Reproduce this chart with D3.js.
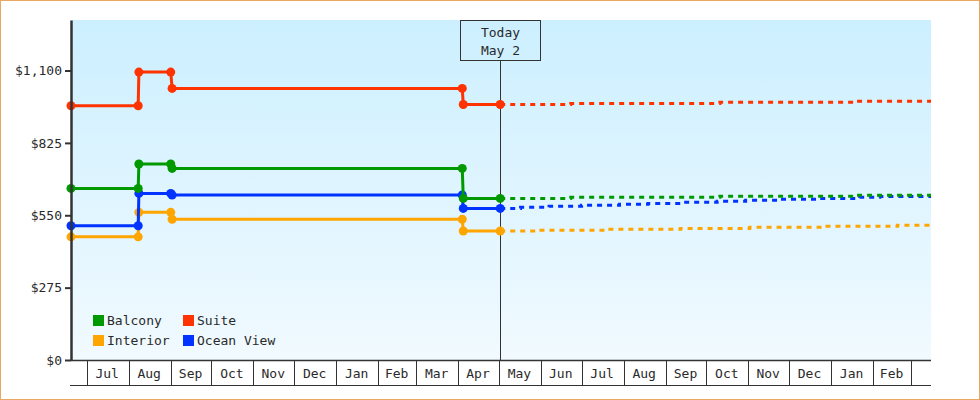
<!DOCTYPE html>
<html>
<head>
<meta charset="utf-8">
<script src="https://cdn.jsdelivr.net/npm/d3@7"></script>
<style>
  body { margin: 0; background: #fff; }
  svg { display: block; }
  text { font-family: "DejaVu Sans Mono", monospace; font-size: 13px; fill: #2a2a2a; }
</style>
</head>
<body>
<svg id="chart" width="980" height="400"></svg>
<script>
// price history, one value per date (pairs of dates give the small jump)
var historyDates = ["2021-06-19 10:30", "2021-08-08", "2021-08-08 12:00", "2021-09-01", "2021-09-02",
  "2022-04-04", "2022-04-04 18:00", "2022-05-02"];
var balcony = [652, 652, 745, 745, 728, 728, 614, 614];
var suite = [966, 966, 1094, 1094, 1032, 1032, 971, 971];
var interior = [468, 468, 561, 561, 535, 535, 490, 490];
var oceanView = [510, 510, 633, 633, 627, 627, 576, 576];

// forecast after today, value holds from its date to the next one
var suiteForecastDates = ["2022-05-02", "2022-06-23", "2022-10-11", "2023-01-20", "2023-03-15 17:00"];
var suiteForecast = [971, 975, 979, 983, 983];
var balconyForecastDates = ["2022-05-02", "2022-06-23", "2022-10-11", "2023-01-20", "2023-03-15 17:00"];
var balconyForecast = [614, 618, 622, 626, 626];
var oceanViewForecastDates = ["2022-05-02", "2022-05-17", "2022-06-07", "2022-07-01", "2022-07-29", "2022-08-19",
  "2022-09-12", "2022-10-09", "2022-10-30", "2022-11-25", "2022-12-24", "2023-01-22", "2023-02-06", "2023-03-15 17:00"];
var oceanViewForecast = [576, 580, 584, 588, 592, 595, 599, 603, 607, 611, 614, 618, 621, 621];
var interiorForecastDates = ["2022-05-02", "2022-05-30", "2022-07-20", "2022-09-12", "2022-11-02", "2022-12-26",
  "2023-02-19", "2023-03-15 17:00"];
var interiorForecast = [490, 493, 497, 500, 504, 508, 512, 512];

var todayDate = "2022-05-02";
var todayLabel = ["Today", "May 2"];

var yTicks = [0, 275, 550, 825, 1100];
var monthStarts = ["2021-07-01", "2021-08-01", "2021-09-01", "2021-10-01", "2021-11-01", "2021-12-01",
  "2022-01-01", "2022-02-01", "2022-03-01", "2022-04-01", "2022-05-01", "2022-06-01", "2022-07-01",
  "2022-08-01", "2022-09-01", "2022-10-01", "2022-11-01", "2022-12-01", "2023-01-01", "2023-02-01", "2023-03-01"];
var monthLabels = ["Jul", "Aug", "Sep", "Oct", "Nov", "Dec", "Jan", "Feb", "Mar", "Apr", "May", "Jun",
  "Jul", "Aug", "Sep", "Oct", "Nov", "Dec", "Jan", "Feb"];

var parseDay = d3.utcParse("%Y-%m-%d");
var parseTime = d3.utcParse("%Y-%m-%d %H:%M");
function parse(s) { return parseTime(s) || parseDay(s); }

var series = [
  {name: "Interior", color: "#ffa500", values: interior, fDates: interiorForecastDates, fValues: interiorForecast},
  {name: "Ocean View", color: "#0033ff", values: oceanView, fDates: oceanViewForecastDates, fValues: oceanViewForecast},
  {name: "Balcony", color: "#009900", values: balcony, fDates: balconyForecastDates, fValues: balconyForecast},
  {name: "Suite", color: "#ff3300", values: suite, fDates: suiteForecastDates, fValues: suiteForecast}
];

// plot box (window.top is taken, so no plain "top")
var plotLeft = 71, plotRight = 931, plotTop = 20, plotBottom = 360;

var svg = d3.select("#chart");

// orange frame round the whole picture
svg.append("rect")
  .attr("x", 0.5).attr("y", 0.5)
  .attr("width", 979).attr("height", 399)
  .attr("fill", "#fff")
  .attr("stroke", "#e9a862");

var x = d3.scaleUtc()
  .domain([parse("2021-06-19 10:30"), parse("2023-03-15 17:00")])
  .range([plotLeft, plotRight]);

var y = d3.scaleLinear()
  .domain([0, 1292])
  .range([plotBottom, plotTop]);

// plot background gradient
var grad = svg.append("defs").append("linearGradient")
  .attr("id", "bg")
  .attr("x1", 0).attr("y1", 0).attr("x2", 0).attr("y2", 1);
grad.append("stop").attr("offset", "0%").attr("stop-color", "#ccefff");
grad.append("stop").attr("offset", "100%").attr("stop-color", "#f1faff");

svg.append("rect")
  .attr("x", plotLeft).attr("y", plotTop)
  .attr("width", plotRight - plotLeft).attr("height", plotBottom - plotTop)
  .attr("fill", "url(#bg)");

// today marker line and box
var tx = Math.round(x(parse(todayDate)));
svg.append("line")
  .attr("x1", tx + 0.5).attr("x2", tx + 0.5)
  .attr("y1", 60).attr("y2", plotBottom)
  .attr("stroke", "#333").attr("stroke-width", 1);

svg.append("rect")
  .attr("x", tx - 39.5).attr("y", plotTop + 0.5)
  .attr("width", 80).attr("height", 40)
  .attr("fill", "none")
  .attr("stroke", "#333");

svg.selectAll("text.today")
  .data(todayLabel)
  .enter()
  .append("text")
  .attr("class", "today")
  .attr("x", tx + 0.5)
  .attr("y", function(d, i) { return 37 + i * 18; })
  .attr("text-anchor", "middle")
  .text(function(d) { return d; });

var line = d3.line()
  .x(function(d) { return x(d.date); })
  .y(function(d) { return y(d.value); });

var stepLine = d3.line()
  .curve(d3.curveStepAfter)
  .x(function(d) { return x(d.date); })
  .y(function(d) { return y(d.value); });

// dashed forecasts first so the markers sit on top
series.forEach(function(s) {
  var pts = s.fDates.map(function(d, i) { return {date: parse(d), value: s.fValues[i]}; });
  svg.append("path")
    .datum(pts)
    .attr("d", stepLine)
    .attr("fill", "none")
    .attr("stroke", s.color)
    .attr("stroke-width", 3)
    .attr("stroke-dasharray", "5,5");
});

series.forEach(function(s) {
  var pts = historyDates.map(function(d, i) { return {date: parse(d), value: s.values[i]}; });
  var g = svg.append("g");
  g.append("path")
    .datum(pts)
    .attr("d", line)
    .attr("fill", "none")
    .attr("stroke", s.color)
    .attr("stroke-width", 3);
  g.selectAll("circle")
    .data(pts)
    .enter()
    .append("circle")
    .attr("cx", function(d) { return x(d.date); })
    .attr("cy", function(d) { return y(d.value); })
    .attr("r", 4.5)
    .attr("fill", s.color);
});

// y axis
var yAxis = d3.axisLeft(y)
  .tickValues(yTicks)
  .tickSize(6)
  .tickSizeOuter(0)
  .tickPadding(3)
  .tickFormat(function(d) { return "$" + d3.format(",")(d); });

var yg = svg.append("g")
  .attr("transform", "translate(" + plotLeft + ",0)")
  .call(yAxis)
  .attr("font-family", null)
  .attr("font-size", null);
yg.select(".domain").attr("stroke", "#333").attr("stroke-width", 2.5);
yg.selectAll(".tick line").attr("stroke", "#333").attr("stroke-width", 2);
yg.selectAll(".tick text").attr("fill", "#2a2a2a");

// month strip below the plot
var strip = svg.append("g");
strip.append("line")
  .attr("x1", plotLeft).attr("x2", plotRight)
  .attr("y1", plotBottom + 0.5).attr("y2", plotBottom + 0.5)
  .attr("stroke", "#333").attr("stroke-width", 1.5);
strip.append("line")
  .attr("x1", plotLeft - 1).attr("x2", plotRight)
  .attr("y1", 385.5).attr("y2", 385.5)
  .attr("stroke", "#333");
strip.selectAll("line.sep")
  .data(monthStarts)
  .enter()
  .append("line")
  .attr("class", "sep")
  .attr("x1", function(d) { return Math.round(x(parse(d))) + 0.5; })
  .attr("x2", function(d) { return Math.round(x(parse(d))) + 0.5; })
  .attr("y1", plotBottom).attr("y2", 385)
  .attr("stroke", "#333");
strip.selectAll("text")
  .data(monthLabels)
  .enter()
  .append("text")
  .attr("x", function(d, i) { return (x(parse(monthStarts[i])) + x(parse(monthStarts[i + 1]))) / 2 - 0.5; })
  .attr("y", 378)
  .attr("text-anchor", "middle")
  .text(function(d) { return d; });

// legend, two columns
var legendItems = [
  {name: "Balcony", color: "#009900", col: 0, row: 0},
  {name: "Interior", color: "#ffa500", col: 0, row: 1},
  {name: "Suite", color: "#ff3300", col: 1, row: 0},
  {name: "Ocean View", color: "#0033ff", col: 1, row: 1}
];
var lg = svg.selectAll("g.legend")
  .data(legendItems)
  .enter()
  .append("g")
  .attr("class", "legend")
  .attr("transform", function(d) { return "translate(" + (93 + d.col * 90) + "," + (315 + d.row * 20) + ")"; });
lg.append("rect")
  .attr("width", 11).attr("height", 11)
  .attr("fill", function(d) { return d.color; });
lg.append("text")
  .attr("x", 14).attr("y", 10)
  .text(function(d) { return d.name; });
</script>
</body>
</html>
